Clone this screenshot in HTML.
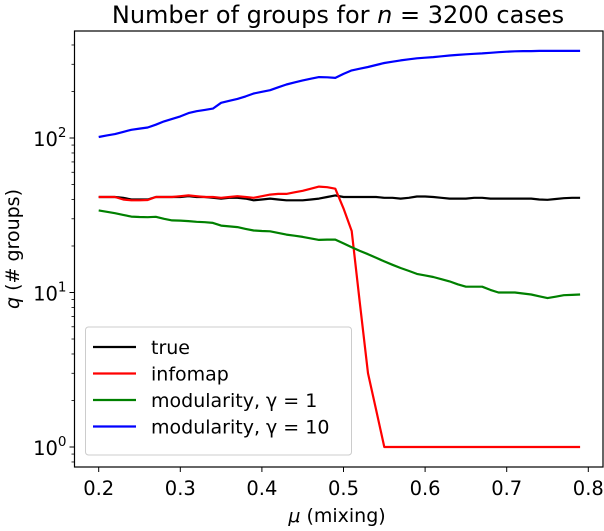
<!DOCTYPE html>
<html><head><meta charset="utf-8"><style>
body{margin:0;background:#fff}
svg text{font-family:"DejaVu Sans","Liberation Sans",sans-serif;fill:#000}
</style></head><body>
<svg id="chart" width="604" height="526" xmlns="http://www.w3.org/2000/svg">
<rect width="604" height="526" fill="#fff"/>
<text x="338" y="23" font-size="24" text-anchor="middle">Number of groups for <tspan font-style="italic">n</tspan> = 3200 cases</text>
<g id="plot"></g>
<text x="337" y="522" font-size="19" text-anchor="middle"><tspan font-style="italic">μ</tspan> (mixing)</text>
<text transform="translate(19,249) rotate(-90)" font-size="19" text-anchor="middle"><tspan font-style="italic">q</tspan> (# groups)</text>
</svg>
<script>
const mu = [0.20,0.21,0.22,0.23,0.24,0.25,0.26,0.27,0.28,0.29,0.30,0.31,0.32,0.33,0.34,0.35,0.36,0.37,0.38,0.39,0.40,0.41,0.42,0.43,0.44,0.45,0.46,0.47,0.48,0.49,0.50,0.51,0.52,0.53,0.54,0.55,0.56,0.57,0.58,0.59,0.60,0.61,0.62,0.63,0.64,0.65,0.66,0.67,0.68,0.69,0.70,0.71,0.72,0.73,0.74,0.75,0.76,0.77,0.78,0.79];
const trueQ = [41.5,41.5,41.5,41,40,40,40,41.5,41.5,41.5,41.5,42,41.5,41.5,41,40.5,41,41,40.5,39.5,40,40.5,40,39.5,39.5,39.5,40,40.5,41.5,42.5,41.5,41.5,41.5,41.5,41.5,41,41,40.5,41,41.8,41.8,41.5,41,40.5,40.5,40.5,41,41,40.5,40.5,40.5,40.5,40.5,40.5,40,39.8,40.3,40.8,41,41];
const infomap = [41.5,41.5,41.5,40,39.5,39.5,39.7,41.5,41.5,41.5,42,42.5,42,41.5,41.5,41,41.5,42,41.5,41,42,43,43.5,43.5,44.5,45.5,47,48.5,48,47,35,25,8.6,3.0,1.74,1,1,1,1,1,1,1,1,1,1,1,1,1,1,1,1,1,1,1,1,1,1,1,1,1];
const mod1 = [34,33.3,32.6,31.8,31,30.8,30.7,30.9,30,29.3,29.2,29,28.7,28.5,28.2,27.1,26.8,26.5,25.8,25.2,25,24.9,24.3,23.7,23.3,22.9,22.4,21.9,22,22,20.8,19.6,18.6,17.7,16.8,15.9,15.1,14.4,13.8,13.2,12.9,12.6,12.2,11.8,11.3,10.9,10.9,10.9,10.4,10,10,10,9.85,9.7,9.45,9.2,9.4,9.6,9.65,9.7];
const mod10 = [101.5,104,106,109.5,113,115,117,122,128,133,138,145,149,152,155,169,174,179,186,194,199,204,213,222,229,236,242,248,247,245,260,274,281,288,297,306,312,318,323,328,331,334,338,342,345,348,351,353,356,359,362,364,365,365,366,366,366,366,366,366];
const xTicks = [0.2,0.3,0.4,0.5,0.6,0.7,0.8];
const yTickExp = [0,1,2];
const seriesNames = ["true","infomap","modularity, γ = 1","modularity, γ = 10"];

const NS="http://www.w3.org/2000/svg";
const L=74.5,R=603,T=31,B=467;
const X=v=>98.7+(v-0.2)*816;
const Y=v=>447-Math.log10(v)*154.5;
const g=document.getElementById('plot');
function mk(t,a){const e=document.createElementNS(NS,t);for(const k in a)e.setAttribute(k,a[k]);g.appendChild(e);return e;}

const series=[[trueQ,'#000000','true-series'],[infomap,'#ff0000','infomap-series'],[mod1,'#008000','modularity-gamma1-series'],[mod10,'#0000ff','modularity-gamma10-series']];
series.forEach(([d,c,n])=>{
  const p=mk('polyline',{points:d.map((v,i)=>X(mu[i]).toFixed(1)+','+Y(v).toFixed(1)).join(' '),fill:'none',stroke:c,'stroke-width':2.2,'stroke-linejoin':'round'});
  
  
});

const fr=mk('rect',{x:L,y:T,width:R-L,height:B-T,fill:'none',stroke:'#000','stroke-width':1.2});



xTicks.forEach(v=>{
  mk('line',{x1:X(v),x2:X(v),y1:B,y2:B+5,stroke:'#000','stroke-width':1});
  const t=mk('text',{x:X(v),y:B+28,'font-size':19.5,'text-anchor':'middle'});t.textContent=v.toFixed(1);
  
  
});
yTickExp.forEach(e=>{
  const y=Y(Math.pow(10,e));
  mk('line',{x1:L-5,x2:L,y1:y,y2:y,stroke:'#000','stroke-width':1});
  const t=mk('text',{x:L-8,y:y+8,'font-size':19.5,'text-anchor':'end'});
  t.innerHTML='10<tspan dy="-9" font-size="13.5">'+e+'</tspan>';
  
  
});
for(let e=-1;e<=2;e++)for(let m=2;m<=9;m++){const v=m*Math.pow(10,e);const y=Y(v);if(y>T&&y<B)mk('line',{x1:L-3,x2:L,y1:y,y2:y,stroke:'#000','stroke-width':0.8});}

const lg=mk('rect',{x:85.5,y:327,width:266,height:128,rx:3,fill:'#fff','fill-opacity':0.85,stroke:'#cccccc','stroke-width':1});


series.forEach(([d,c],i)=>{
  const y=347+i*26.5;
  mk('line',{x1:93,x2:136,y1:y,y2:y,stroke:c,'stroke-width':2.2});
  const t=mk('text',{x:151,y:y+7,'font-size':19});t.textContent=seriesNames[i];
  
  
});
</script>
</body></html>
